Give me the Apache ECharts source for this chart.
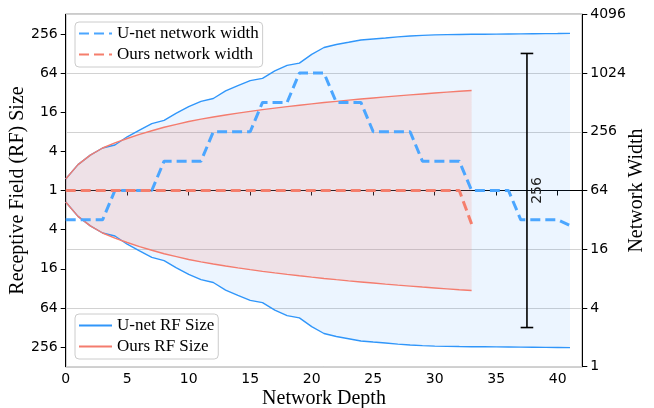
<!DOCTYPE html>
<html>
<head>
<meta charset="utf-8">
<script src="https://cdn.jsdelivr.net/npm/echarts@6/dist/echarts.min.js"></script>
<style>html,body{margin:0;padding:0;background:#fff}#c{width:654px;height:408px}</style>
</head>
<body>
<div id="c"></div>
<script>
// ---- data ----
const depthTicks = [0, 5, 10, 15, 20, 25, 30, 35, 40];
const rfTickSizes = [1, 4, 16, 64, 256];
const widthTicks = [1, 4, 16, 64, 256, 1024, 4096];

// receptive field sizes per network depth (index = depth)
const unetRF = [1.5, 2.5, 3.5, 4.5, 5, 6.7, 8.5, 10.7, 12, 15.5, 19.5, 23.5, 26, 34, 41, 49, 53, 69, 84, 91,
  124, 158, 176, 190, 206, 214, 221, 230, 238, 243, 247, 249, 251, 252, 253, 254, 255, 256, 257, 258, 259, 261];
const oursRF = [1.5, 2.5, 3.5, 4.5, 5.4, 6.3, 7.3, 8.3, 9.4, 10.4, 11.5, 12.5, 13.5, 14.5, 15.5, 16.5, 17.5,
  18.5, 19.5, 20.5, 21.5, 22.5, 23.5, 24.5, 25.5, 26.5, 27.5, 28.5, 29.5, 30.5, 31.5, 32.5, 33.5, 34.5];

// network widths per depth
const unetWidth = [32, 32, 32, 32, 64, 64, 64, 64, 128, 128, 128, 128, 256, 256, 256, 256, 512, 512, 512,
  1024, 1024, 1024, 512, 512, 512, 256, 256, 256, 256, 128, 128, 128, 128, 64, 64, 64, 64, 32, 32, 32, 32, 28];
const oursWidth = [64, 64, 64, 64, 64, 64, 64, 64, 64, 64, 64, 64, 64, 64, 64, 64, 64, 64, 64, 64, 64, 64,
  64, 64, 64, 64, 64, 64, 64, 64, 64, 64, 64, 29];

// annotation: span of the error bar (RF size above / below centre), and its position
const spanDepth = 37.5;
const spanHalf = 128;
const spanLabel = '256';

// ---- helpers ----
const lg = Math.log2;
const up = arr => arr.map((v, i) => [i, lg(v)]);
const down = arr => arr.map((v, i) => [i, -lg(v)]);
const band = arr => arr.map((v, i) => [i, -lg(v), lg(v)]);
const widthPts = arr => arr.map((v, i) => [i, lg(v)]);
const rfTickVals = [];
rfTickSizes.forEach(s => { rfTickVals.push(lg(s)); if (s !== 1) rfTickVals.push(-lg(s)); });
rfTickVals.sort((a, b) => a - b);

const BLUE = '#3096fa', BLUE_D = '#4ba6ff', RED = '#f47c6e', RED_D = '#f57e6c';
const tickFont = { fontFamily: 'DejaVu Sans', fontSize: 14, color: '#000' };
const titleFont = { fontFamily: 'Liberation Serif', fontSize: 20, color: '#000' };
const legendFont = { fontFamily: 'Liberation Serif', fontSize: 17, color: '#000' };

// one polygon between lower and upper bound, built from all points of the series
function bandRenderer(fill) {
  return (params, api) => {
    if (params.dataIndexInside !== 0) return null;
    const n = params.dataInsideLength;
    const top = [], bot = [];
    for (let i = 0; i < n; i++) {
      const x = api.value(0, i);
      top.push(api.coord([x, api.value(2, i)]));
      bot.push(api.coord([x, api.value(1, i)]));
    }
    return { type: 'polygon', shape: { points: top.concat(bot.reverse()) }, style: { fill: fill }, silent: true };
  };
}

const legendBase = {
  orient: 'vertical', left: 75, itemWidth: 33, itemHeight: 14, itemGap: 4, padding: [3, 4, 4, 3],
  backgroundColor: 'rgba(255,255,255,0.8)', borderColor: '#cccccc', borderWidth: 1, borderRadius: 4,
  textStyle: legendFont, itemStyle: { opacity: 0 }
};

const chart = echarts.init(document.getElementById('c'), null, { renderer: 'canvas' });
chart.setOption({
  animation: false,
  backgroundColor: '#fff',
  grid: { left: 65.7, right: 71.7, top: 14.3, bottom: 41.3, show: true, borderColor: '#000', borderWidth: 1,
    backgroundColor: 'transparent', outerBoundsMode: 'none', containLabel: false },
  legend: [
    Object.assign({}, legendBase, { data: ['U-net network width', 'Ours network width'], top: 22 }),
    Object.assign({}, legendBase, { data: ['U-net RF Size', 'Ours RF Size'], top: 314 })
  ],
  xAxis: {
    type: 'value', min: 0, max: 42,
    name: 'Network Depth', nameLocation: 'middle', nameGap: 22, nameMoveOverlap: false, nameTextStyle: titleFont,
    axisLine: { show: true, lineStyle: { color: '#000', width: 1 } },
    axisTick: { show: true, length: 5, customValues: depthTicks, lineStyle: { color: '#000' } },
    axisLabel: Object.assign({ customValues: depthTicks, margin: 6 }, tickFont),
    splitLine: { show: false }
  },
  yAxis: [
    { type: 'value', min: -9, max: 9, position: 'left',
      name: 'Receptive Field (RF) Size', nameLocation: 'middle', nameRotate: 90, nameGap: 38, nameMoveOverlap: false,
      nameTextStyle: titleFont,
      axisLine: { show: true, lineStyle: { color: '#000', width: 1 } },
      axisTick: { show: true, length: 5, customValues: rfTickVals, lineStyle: { color: '#000' } },
      axisLabel: Object.assign({ customValues: rfTickVals, margin: 8,
        formatter: v => String(Math.round(Math.pow(2, Math.abs(v)))) }, tickFont),
      splitLine: { show: false } },
    { type: 'value', min: lg(widthTicks[0]), max: lg(widthTicks[widthTicks.length - 1]), interval: 2, position: 'right',
      name: 'Network Width', nameLocation: 'middle', nameRotate: 90, nameGap: 44, nameMoveOverlap: false,
      nameTextStyle: titleFont,
      axisLine: { show: true, lineStyle: { color: '#000', width: 1 } },
      axisTick: { show: true, length: 5, lineStyle: { color: '#000' } },
      axisLabel: Object.assign({ margin: 8, formatter: v => String(Math.round(Math.pow(2, v))) }, tickFont),
      splitLine: { show: true, lineStyle: { color: '#d2d2d2', width: 1 } } }
  ],
  series: [
    // fills
    { name: '_uband', type: 'custom', data: band(unetRF), z: 1, silent: true,
      renderItem: bandRenderer('rgba(30,144,255,0.085)') },
    { name: '_oband', type: 'custom', data: band(oursRF), z: 1, silent: true,
      renderItem: bandRenderer('rgba(250,128,114,0.17)') },
    // RF lines
    { name: 'U-net RF Size', type: 'line', data: up(unetRF), symbol: 'none', showSymbol: false, color: BLUE,
      lineStyle: { color: BLUE, width: 1.4 }, z: 3 },
    { name: 'U-net RF Size', type: 'line', data: down(unetRF), symbol: 'none', showSymbol: false, color: BLUE,
      lineStyle: { color: BLUE, width: 1.4 }, z: 3 },
    { name: 'Ours RF Size', type: 'line', data: up(oursRF), symbol: 'none', showSymbol: false, color: RED,
      lineStyle: { color: RED, width: 1.4 }, z: 3 },
    { name: 'Ours RF Size', type: 'line', data: down(oursRF), symbol: 'none', showSymbol: false, color: RED,
      lineStyle: { color: RED, width: 1.4 }, z: 3 },
    // widths
    { name: 'U-net network width', type: 'line', yAxisIndex: 1, data: widthPts(unetWidth), symbol: 'none',
      showSymbol: false, color: BLUE_D, lineStyle: { color: BLUE_D, width: 3, type: [10, 5] }, z: 4 },
    { name: 'Ours network width', type: 'line', yAxisIndex: 1, data: widthPts(oursWidth), symbol: 'none',
      showSymbol: false, color: RED_D, lineStyle: { color: RED_D, width: 3, type: [10, 5] }, z: 4 },
    // span annotation
    { name: '_span', type: 'custom', data: [[spanDepth, -lg(spanHalf), lg(spanHalf)]], z: 5, silent: true,
      renderItem: (params, api) => {
        const x = api.value(0);
        const a = api.coord([x, api.value(2)]);
        const b = api.coord([x, api.value(1)]);
        const cap = 6.3;
        const st = { stroke: '#000', lineWidth: 1.6 };
        return { type: 'group', children: [
          { type: 'line', shape: { x1: a[0], y1: a[1], x2: b[0], y2: b[1] }, style: st },
          { type: 'line', shape: { x1: a[0] - cap, y1: a[1], x2: a[0] + cap, y2: a[1] }, style: st },
          { type: 'line', shape: { x1: b[0] - cap, y1: b[1], x2: b[0] + cap, y2: b[1] }, style: st },
          { type: 'text', x: a[0] + 10, y: (a[1] + b[1]) / 2, rotation: Math.PI / 2,
            style: { text: spanLabel, fontFamily: 'DejaVu Sans', fontSize: 14, fill: '#222',
              align: 'center', verticalAlign: 'middle' } }
        ] };
      } }
  ]
});
</script>
</body>
</html>
